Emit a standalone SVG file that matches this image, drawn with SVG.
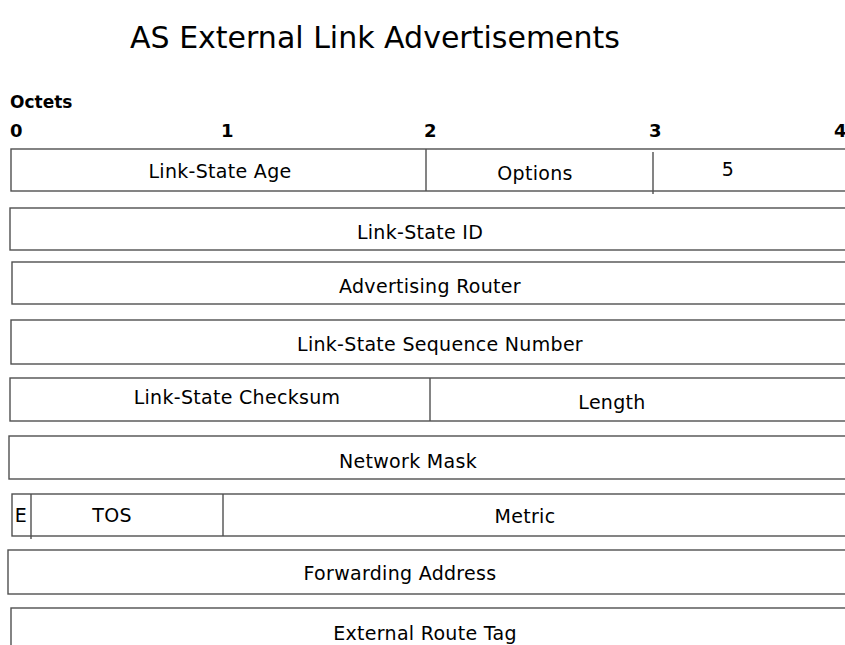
<svg xmlns="http://www.w3.org/2000/svg" width="845" height="645" viewBox="0 0 845 645">
<style>
.box{fill:#fff;stroke:#505050;stroke-width:1.4}
.div{stroke:#505050;stroke-width:1.4}
.lbl{font-family:"DejaVu Sans",sans-serif;font-size:19px;letter-spacing:0.3px;fill:#000;text-anchor:middle}
.hd{font-family:"DejaVu Sans",sans-serif;font-weight:bold;fill:#000}
.title{font-family:"DejaVu Sans",sans-serif;font-size:30px;fill:#000;text-anchor:middle}
</style>
<rect width="845" height="645" fill="#fff"/>
<text class="title" x="375" y="48">AS External Link Advertisements</text>
<g id="header">
<text class="hd" x="10" y="108" font-size="17">Octets</text>
<text class="hd" x="10" y="137" font-size="18">0</text>
<text class="hd" x="221" y="137" font-size="18">1</text>
<text class="hd" x="424" y="137" font-size="18">2</text>
<text class="hd" x="649" y="137" font-size="18">3</text>
<text class="hd" x="834" y="137" font-size="18">4</text>
</g>
<g id="row1">
<rect class="box" x="11" y="149" width="860" height="42"/>
<text class="lbl" x="220" y="178">Link-State Age</text>
<text class="lbl" x="535" y="180">Options</text>
<text class="lbl" x="728" y="176">5</text>
</g>
<g id="row2">
<rect class="box" x="10" y="208" width="860" height="42"/>
<text class="lbl" x="420" y="239">Link-State ID</text>
</g>
<g id="row3">
<rect class="box" x="12" y="262" width="860" height="42"/>
<text class="lbl" x="430" y="293">Advertising Router</text>
</g>
<g id="row4">
<rect class="box" x="11" y="320" width="860" height="44"/>
<text class="lbl" x="440" y="351">Link-State Sequence Number</text>
</g>
<g id="row5">
<rect class="box" x="10" y="378" width="860" height="43"/>
<text class="lbl" x="237" y="404">Link-State Checksum</text>
<text class="lbl" x="612" y="409">Length</text>
</g>
<g id="row6">
<rect class="box" x="9" y="436" width="860" height="43"/>
<text class="lbl" x="408" y="468">Network Mask</text>
</g>
<g id="row7">
<rect class="box" x="12" y="494" width="860" height="42"/>
<text class="lbl" x="21" y="522">E</text>
<text class="lbl" x="112" y="522">TOS</text>
<text class="lbl" x="525" y="523">Metric</text>
</g>
<g id="row8">
<rect class="box" x="8" y="550" width="860" height="44"/>
<text class="lbl" x="400" y="580">Forwarding Address</text>
</g>
<g id="row9">
<rect class="box" x="11" y="608" width="860" height="60"/>
<text class="lbl" x="425" y="640">External Route Tag</text>
</g>
<g id="connectors">
<line class="div" x1="426" y1="149" x2="426" y2="191"/>
<line class="div" x1="653" y1="152" x2="653" y2="194"/>
<line class="div" x1="430" y1="378" x2="430" y2="421"/>
<line class="div" x1="31" y1="494" x2="31" y2="539"/>
<line class="div" x1="223" y1="494" x2="223" y2="536"/>
</g>
</svg>
